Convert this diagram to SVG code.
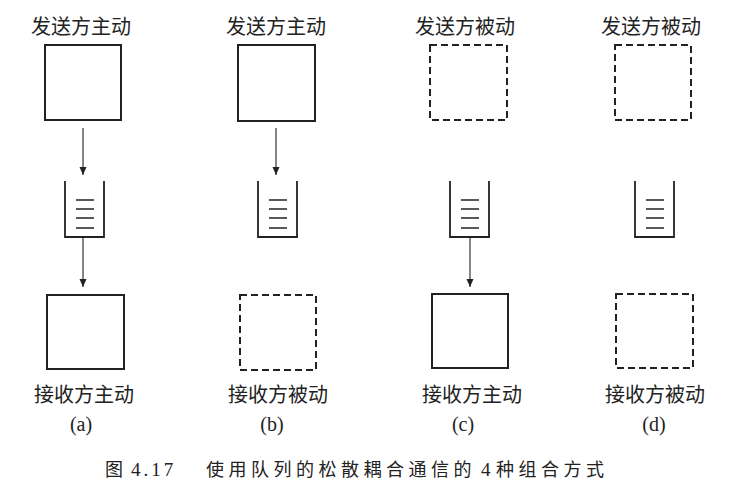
<svg xmlns="http://www.w3.org/2000/svg" width="748" height="496" viewBox="0 0 748 496">
<style>
.lbl{font-family:"Noto Sans CJK SC","Noto Sans",sans-serif;font-size:20px;fill:#222;text-anchor:middle}
.sub{font-family:"Liberation Serif",serif;font-size:20px;fill:#222;text-anchor:middle}
.cap{font-family:"Noto Sans CJK SC","Noto Sans",sans-serif;font-size:18px;fill:#222}
.capn{font-family:"Liberation Serif",serif;font-size:19px;fill:#222}
.solid{fill:none;stroke:#222;stroke-width:2}
.dash{fill:none;stroke:#222;stroke-width:2;stroke-dasharray:7 4}
.q{fill:none;stroke:#222;stroke-width:1.8}
.ql{stroke:#222;stroke-width:1.5}
.conn{stroke:#222;stroke-width:1.1;fill:none;marker-end:url(#ah)}
</style>
<defs>
<marker id="ah" viewBox="0 0 8 17" refX="8" refY="8.5" markerWidth="8" markerHeight="17" markerUnits="userSpaceOnUse" orient="auto">
<path d="M0,5 L8,8.5 L0,12 z" fill="#222"/>
</marker>
<g id="queueShape">
<path class="q" d="M0,0 V56 H39 V0"/>
<line class="ql" x1="11" y1="19" x2="29" y2="19"/>
<line class="ql" x1="11" y1="28" x2="29" y2="28"/>
<line class="ql" x1="11" y1="37" x2="29" y2="37"/>
<line class="ql" x1="11" y1="47" x2="29" y2="47"/>
</g>
</defs>
<rect width="748" height="496" fill="#fff"/>

<g id="a">
<text class="lbl" x="81" y="34">发送方主动</text>
<rect id="a-sender" class="solid" x="45" y="45" width="76" height="75"/>
<use id="a-queue" href="#queueShape" x="65" y="181"/>
<rect id="a-receiver" class="solid" x="47" y="295" width="77" height="74"/>
<text class="lbl" x="84" y="402">接收方主动</text>
<text class="sub" x="81" y="431">(a)</text>
</g>

<g id="b">
<text class="lbl" x="276" y="34">发送方主动</text>
<rect id="b-sender" class="solid" x="238" y="45" width="77" height="76"/>
<use id="b-queue" href="#queueShape" x="258" y="181"/>
<rect id="b-receiver" class="dash" x="240" y="295" width="76" height="75"/>
<text class="lbl" x="278" y="402">接收方被动</text>
<text class="sub" x="272" y="431">(b)</text>
</g>

<g id="c">
<text class="lbl" x="465" y="34">发送方被动</text>
<rect id="c-sender" class="dash" x="430" y="45" width="77" height="75"/>
<use id="c-queue" href="#queueShape" x="450" y="181"/>
<rect id="c-receiver" class="solid" x="432" y="294" width="76" height="74"/>
<text class="lbl" x="472" y="402">接收方主动</text>
<text class="sub" x="463" y="431">(c)</text>
</g>

<g id="d">
<text class="lbl" x="651" y="34">发送方被动</text>
<rect id="d-sender" class="dash" x="615" y="45" width="76" height="75"/>
<use id="d-queue" href="#queueShape" x="635" y="181"/>
<rect id="d-receiver" class="dash" x="616" y="294" width="77" height="74"/>
<text class="lbl" x="655" y="402">接收方被动</text>
<text class="sub" x="654" y="431">(d)</text>
</g>

<g id="connectors">
<line class="conn" x1="83" y1="128" x2="83" y2="175"/>
<line class="conn" x1="83" y1="238" x2="83" y2="287"/>
<line class="conn" x1="276" y1="128" x2="276" y2="175"/>
<line class="conn" x1="470" y1="237" x2="470" y2="287"/>
</g>

<g id="caption">
<text class="cap" x="105" y="476">图</text>
<text class="capn" x="131" y="476" letter-spacing="3">4.17</text>
<text class="cap" x="206" y="476" letter-spacing="4.5">使用队列的松散耦合通信的</text>
<text class="capn" x="481" y="476">4</text>
<text class="cap" x="496" y="476" letter-spacing="4.5">种组合方式</text>
</g>
</svg>
